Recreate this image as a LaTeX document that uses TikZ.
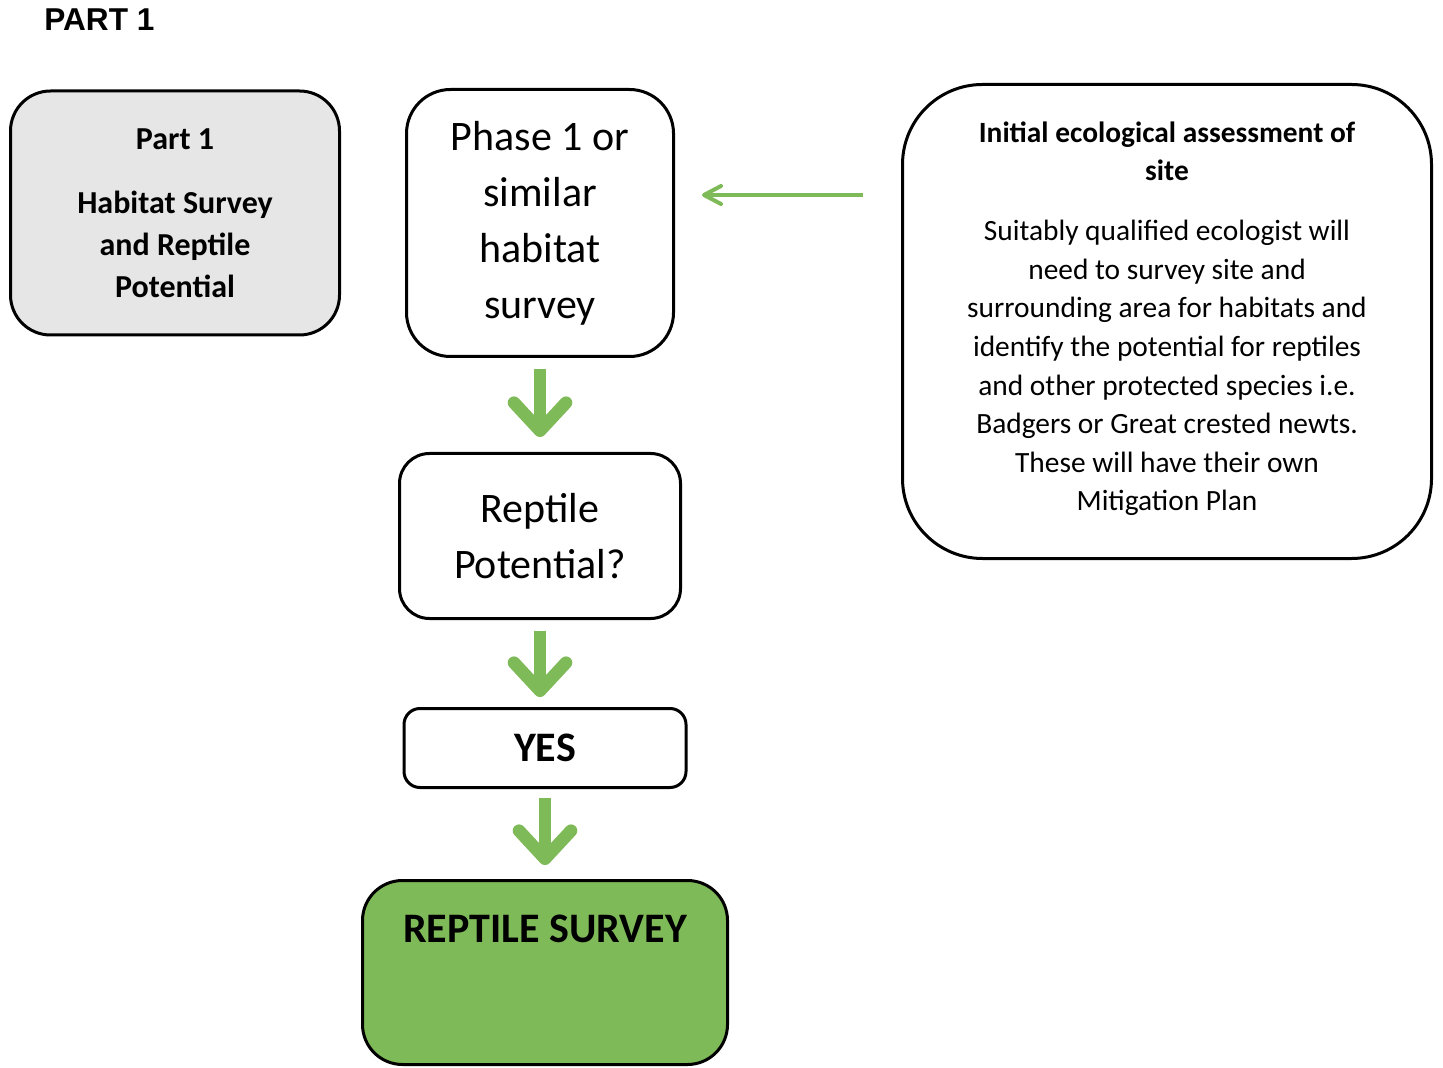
\documentclass[tikz,border=0pt]{standalone}
\usepackage{fontspec}
\setmainfont{Carlito}
\newfontfamily\arialfont{Liberation Sans}
\usepackage{tikz}
\usetikzlibrary{arrows.meta,positioning}
\definecolor{leafgreen}{RGB}{127,186,88}
\definecolor{boxgrey}{RGB}{231,230,230}

\begin{document}
\begin{tikzpicture}[x=0.5pt,y=-0.5pt]

    \tikzstyle{box}=[draw=black, line width=1.5pt, fill=white, align=center, inner sep=0pt]
    \tikzstyle{bigarrow}=[draw=leafgreen, line width=6.3pt, -{Straight Barb[length=14pt,width=26pt,round]}]
    \tikzstyle{thinarrow}=[draw=leafgreen, line width=2pt, -{Straight Barb[length=8.5pt,width=9pt,round]}]

    \useasboundingbox (0,0) rectangle (1443,1068);

    \node[anchor=west, inner sep=0pt, font=\arialfont\bfseries\fontsize{15.8}{18}\selectfont] (title) at (44,20) {PART 1};

    \node[box, fill=boxgrey, rounded corners=20pt, minimum width=164.5pt, minimum height=122pt,
          font=\bfseries\fontsize{16}{21}\selectfont] (part) at (175,213)
          {Part 1\\[11pt] Habitat Survey\\ and Reptile\\ Potential};

    \node[box, rounded corners=22pt, minimum width=133.5pt, minimum height=133.5pt,
          font=\fontsize{21}{28}\selectfont] (phase) at (540,223)
          {Phase 1 or\\ similar\\ habitat\\ survey};
    \node[box, rounded corners=15pt, minimum width=140.5pt, minimum height=82.5pt,
          font=\fontsize{21}{28}\selectfont] (reptile) [below=47pt of phase]
          {Reptile\\ Potential?};
    \node[box, rounded corners=8pt, minimum width=141pt, minimum height=39.5pt,
          font=\bfseries\fontsize{21}{25}\selectfont] (yes) [below=43.5pt of reptile, xshift=2.5pt]
          {YES};
    \node[box, fill=leafgreen, rounded corners=20pt, minimum width=182.5pt, minimum height=92pt,
          font=\bfseries\fontsize{21}{25}\selectfont] (survey) [below=45pt of yes]
          {REPTILE SURVEY\\[19pt]~};

    \node[box, rounded corners=40pt, minimum width=264.5pt, minimum height=237pt,
          font=\fontsize{14.7}{19.3}\selectfont] (info) at (1167,321.5)
          {\textbf{Initial ecological assessment of}\\ \textbf{site}\\[10.7pt]
           Suitably qualified ecologist will\\ need to survey site and\\
           surrounding area for habitats and\\ identify the potential for reptiles\\
           and other protected species i.e.\\ Badgers or Great crested newts.\\
           These will have their own\\ Mitigation Plan\\[-14pt]};

    \coordinate (arrowlevel) at (0,195);

    \path (phase.south)   edge[bigarrow, shorten <=5.5pt, shorten >=7.5pt] (phase.south |- reptile.north)
          (reptile.south) edge[bigarrow, shorten <=5.5pt, shorten >=5pt]   (reptile.south |- yes.north)
          (yes.south)     edge[bigarrow, shorten <=4.5pt, shorten >=7pt]   (yes.south |- survey.north)
          (info.west |- arrowlevel) edge[thinarrow, shorten <=19pt, shorten >=13.5pt] (phase.east |- arrowlevel)
    ;
\end{tikzpicture}
\end{document}
